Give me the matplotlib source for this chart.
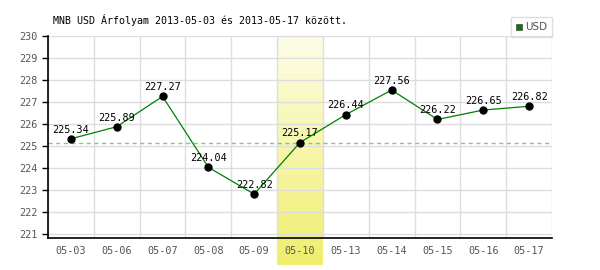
import numpy as np
import matplotlib.pyplot as plt
from matplotlib.patches import Rectangle
from matplotlib.colors import LinearSegmentedColormap

dates = ["05-03", "05-06", "05-07", "05-08", "05-09", "05-10",
         "05-13", "05-14", "05-15", "05-16", "05-17"]
rates = [225.34, 225.89, 227.27, 224.04, 222.82, 225.17,
         226.44, 227.56, 226.22, 226.65, 226.82]
highlight_idx = 5
ref_rate = 225.17

plt.rcParams['font.family'] = ['DejaVu Sans Mono']

fig = plt.figure(figsize=(6, 2.7), dpi=100)
ax = fig.add_axes([0.08, 0.1185, 0.84, 0.748])

x = np.arange(len(dates))
ax.set_xlim(-0.5, len(dates) - 0.5)
ax.set_ylim(220.82, 230.02)

# highlighted day: vertical yellow gradient reaching below the axis
grad = np.linspace(0, 1, 256).reshape(-1, 1)
cmap = LinearSegmentedColormap.from_list("hl", ["#f0ee6c", "#fdfde8"])
ax.imshow(grad, cmap=cmap, origin="lower", aspect="auto",
          extent=(highlight_idx - 0.5, highlight_idx + 0.5, -0.135, 1.0),
          transform=ax.get_xaxis_transform(), clip_on=False, zorder=0)

ax.set_yticks(range(221, 231))
ax.set_xticks(x)
ax.set_xticklabels(dates)
ax.set_xticks(np.arange(-0.5, len(dates)), minor=True)
ax.grid(False)
ax.grid(True, which="minor", axis="x", color="#dddddd", lw=1)
ax.grid(True, which="major", axis="y", color="#dddddd", lw=1)
ax.set_axisbelow(True)
ax.tick_params(which="minor", length=0)
ax.tick_params(which="major", length=4, width=1, colors="black",
               labelcolor="#555555", labelsize=7.3)
ax.tick_params(axis="x", length=0, pad=6)
for s in ["top", "right"]:
    ax.spines[s].set_visible(False)
for s in ["left", "bottom"]:
    ax.spines[s].set_linewidth(1.2)

ax.axhline(ref_rate, color="#7fcc7f", lw=1.0, ls=(0, (3, 2.5)), zorder=1)
ax.plot(x, rates, color="#008000", lw=0.9, zorder=2)
ax.plot(x, rates, "o", color="black", ms=5, zorder=3)
for xi, v in zip(x, rates):
    ax.annotate(f"{v:.2f}", (xi, v), xytext=(0, 3), textcoords="offset points",
                ha="center", va="bottom", fontsize=7.3, color="black", zorder=4)

fig.text(53 / 600, 1 - 20 / 270, "MNB USD Árfolyam 2013-05-03 és 2013-05-17 között.",
         fontsize=7.2, color="black", va="center", ha="left")

# legend box
fig.patches.append(Rectangle((511 / 600, 1 - 37 / 270), 41 / 600, 20 / 270,
                             transform=fig.transFigure, fill=False,
                             edgecolor="#dddddd", lw=1))
fig.patches.append(Rectangle((516 / 600, 1 - 30 / 270), 6 / 600, 6 / 270,
                             transform=fig.transFigure, facecolor="#008000",
                             edgecolor="#555555", lw=0.6))
fig.text(525 / 600, 1 - 27 / 270, "USD", fontsize=7.5, color="#555555",
         va="center", ha="left", family="DejaVu Sans")

fig.savefig("out.png", dpi=100)
